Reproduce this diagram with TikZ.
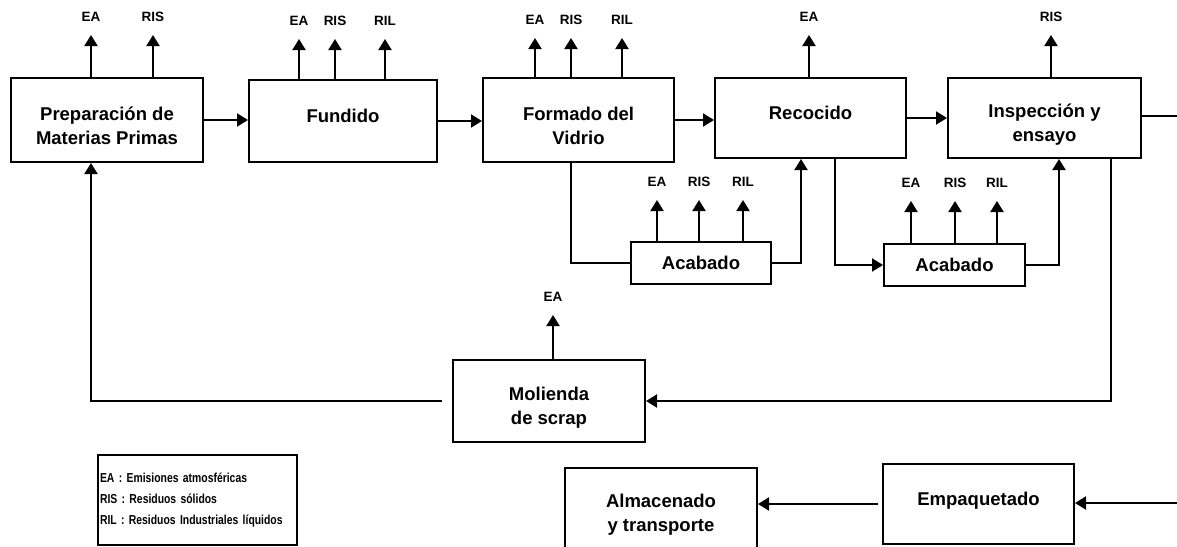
\documentclass[tikz,border=0pt]{standalone}
\usepackage{fontspec}
\setmainfont{Liberation Sans}
\newfontfamily\narrowfont[FakeStretch=0.8,WordSpace=0.6]{Liberation Sans}
\usetikzlibrary{arrows.meta}

\begin{document}
\begin{tikzpicture}[x=1pt,y=-1pt,line width=2pt,
  box/.style={draw,align=center,inner sep=0pt,font=\fontsize{18.5}{24}\selectfont\bfseries},
  proc/.style={box,text height=50pt},
  lbl/.style={inner sep=0pt,font=\fontsize{13.5}{16}\selectfont\bfseries},
  flow/.style={-{Triangle[width=13pt,length=11pt]}},
  emit/.style={-{Triangle[width=13pt,length=11pt]},shorten >=18pt}]

\useasboundingbox (0,0) rectangle (1177,546);

\node[proc,minimum width=192,minimum height=84] (prep) at (107,120) {Preparación de\\Materias Primas};
\node[proc,minimum width=188,minimum height=82] (fund) at (343,121) {Fundido\\\mbox{}};
\node[proc,minimum width=191,minimum height=84] (form) at (578.5,120) {Formado del\\Vidrio};
\node[proc,minimum width=191,minimum height=80] (reco) at (810.5,118) {Recocido\\\mbox{}};
\node[proc,minimum width=193,minimum height=80] (insp) at (1044.5,118) {Inspección y\\ensayo};
\node[box,minimum width=140,minimum height=42] (acab1) at (701,263) {Acabado};
\node[box,minimum width=141,minimum height=42] (acab2) at (954.5,265) {Acabado};
\node[proc,minimum width=192,minimum height=82] (mol) at (549,401) {Molienda\\de scrap};
\node[proc,minimum width=191,minimum height=80] (emp) at (978.5,504) {Empaquetado\\\mbox{}};
\node[proc,minimum width=192,minimum height=80] (alm) at (661,508) {Almacenado\\y transporte};

\node[draw,inner xsep=2pt,inner ysep=0pt,text width=195,minimum height=90,align=left,
  font=\narrowfont\fontsize{13}{21}\selectfont\bfseries] (leyenda) at (197.5,500)
  {EA : Emisiones atmosféricas\\RIS : Residuos sólidos\\RIL : Residuos Industriales líquidos};

\coordinate (salida) at (1177,116);
\coordinate (entrada) at (1177,503);

\node[lbl] (prepEA) at (91,17) {EA};
\node[lbl] (prepRIS) at (153,17) {RIS};
\node[lbl] (fundEA) at (299,21) {EA};
\node[lbl] (fundRIS) at (335,21) {RIS};
\node[lbl] (fundRIL) at (385,21) {RIL};
\node[lbl] (formEA) at (535,20) {EA};
\node[lbl] (formRIS) at (571,20) {RIS};
\node[lbl] (formRIL) at (622,20) {RIL};
\node[lbl] (recoEA) at (809,17) {EA};
\node[lbl] (inspRIS) at (1051,17) {RIS};
\node[lbl] (acabaEA) at (657,182) {EA};
\node[lbl] (acabaRIS) at (699,182) {RIS};
\node[lbl] (acabaRIL) at (743,182) {RIL};
\node[lbl] (acabbEA) at (911,183) {EA};
\node[lbl] (acabbRIS) at (955,183) {RIS};
\node[lbl] (acabbRIL) at (997,183) {RIL};
\node[lbl] (molEA) at (553,297) {EA};

\draw[emit] (prep.north -| prepEA.center) -- (prepEA.center);
\draw[emit] (prep.north -| prepRIS.center) -- (prepRIS.center);
\draw[emit] (fund.north -| fundEA.center) -- (fundEA.center);
\draw[emit] (fund.north -| fundRIS.center) -- (fundRIS.center);
\draw[emit] (fund.north -| fundRIL.center) -- (fundRIL.center);
\draw[emit] (form.north -| formEA.center) -- (formEA.center);
\draw[emit] (form.north -| formRIS.center) -- (formRIS.center);
\draw[emit] (form.north -| formRIL.center) -- (formRIL.center);
\draw[emit] (reco.north -| recoEA.center) -- (recoEA.center);
\draw[emit] (insp.north -| inspRIS.center) -- (inspRIS.center);
\draw[emit] (acab1.north -| acabaEA.center) -- (acabaEA.center);
\draw[emit] (acab1.north -| acabaRIS.center) -- (acabaRIS.center);
\draw[emit] (acab1.north -| acabaRIL.center) -- (acabaRIL.center);
\draw[emit] (acab2.north -| acabbEA.center) -- (acabbEA.center);
\draw[emit] (acab2.north -| acabbRIS.center) -- (acabbRIS.center);
\draw[emit] (acab2.north -| acabbRIL.center) -- (acabbRIL.center);
\draw[emit] (mol.north -| molEA.center) -- (molEA.center);

\draw[flow] (prep.east) -- (prep.east -| fund.west);
\draw[flow] (fund.east) -- (fund.east -| form.west);
\draw[flow] (form.east) -- (form.east -| reco.west);
\draw[flow] (reco.east) -- (reco.east -| insp.west);
\draw (insp.east |- salida) -- (salida);

\draw (form.south -| formRIS.center) |- (acab1.west);
\draw[flow] (acab1.east) -| ([xshift=-9.5]reco.south);
\draw[flow] ([xshift=24.5]reco.south) |- (acab2.west);
\draw[flow] (acab2.east) -| ([xshift=14.5]insp.south);
\draw[flow] ([xshift=66.5]insp.south) |- (mol.east);
\draw[flow,shorten <=10pt] (mol.west) -| ([xshift=-16]prep.south);

\draw[flow] (entrada) -- (entrada -| emp.east);
\draw[flow,shorten <=4pt] (emp.west) -- (emp.west -| alm.east);

\end{tikzpicture}
\end{document}
